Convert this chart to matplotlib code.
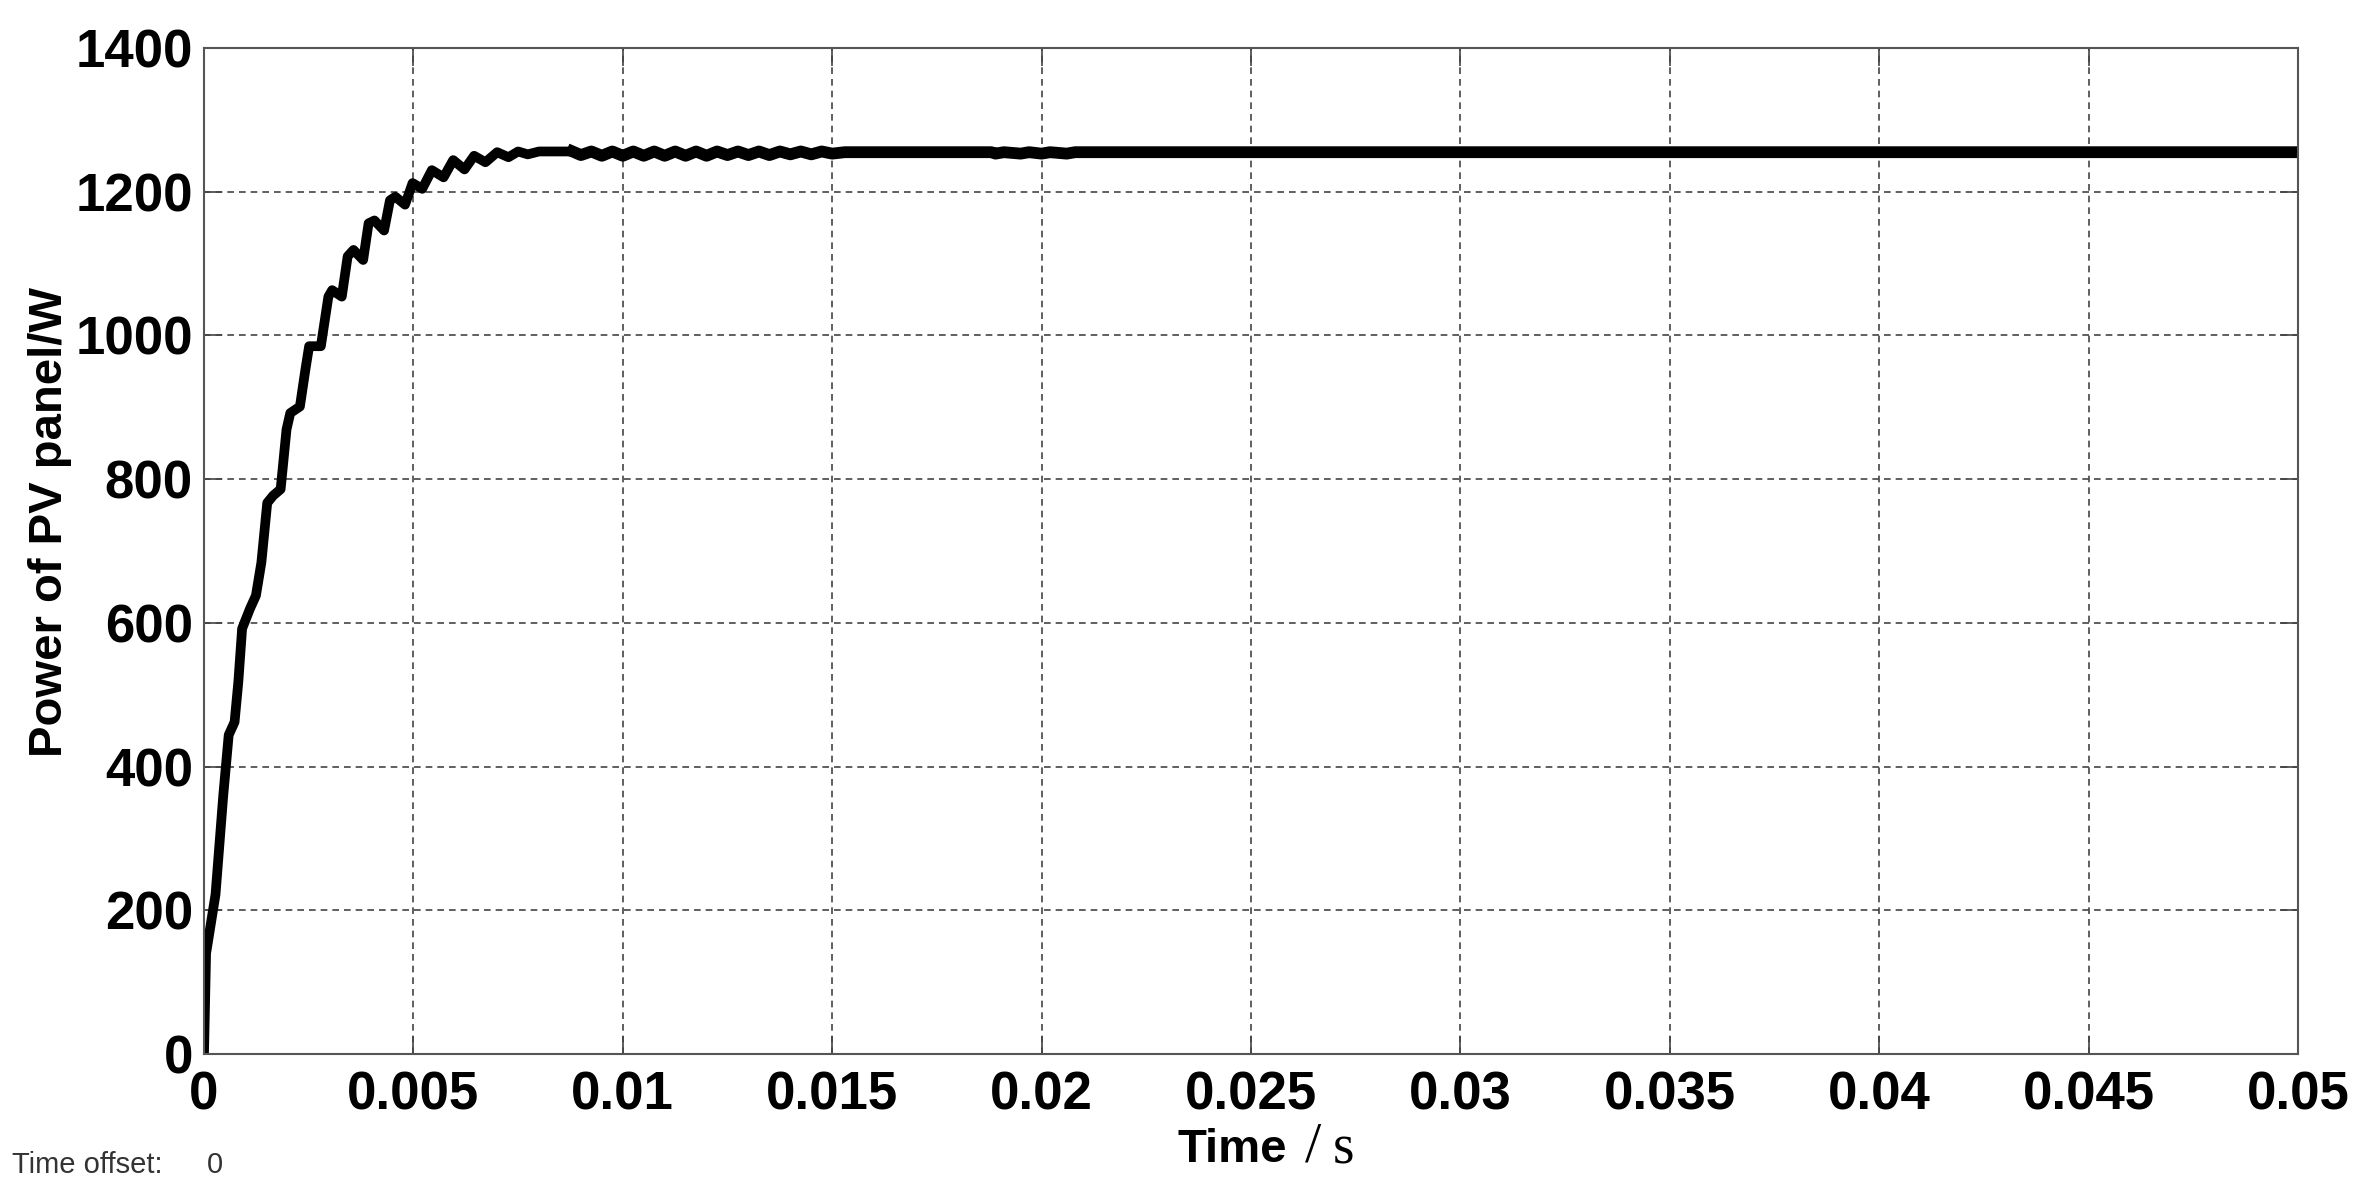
import matplotlib
matplotlib.use("Agg")
import matplotlib.pyplot as plt

plt.rcParams['font.family'] = ['Liberation Sans', 'DejaVu Sans']

# transient part of the PV power curve
t_rise = [0, 0.00005, 0.000275, 0.00046, 0.00059, 0.00073, 0.00082, 0.00091,
          0.0011, 0.00124, 0.00137, 0.00151, 0.00165, 0.00183, 0.00197, 0.00206,
          0.00229, 0.00242, 0.00251, 0.00279, 0.00297, 0.00306, 0.00329, 0.00343,
          0.00357, 0.0038, 0.00393, 0.00407, 0.0043, 0.00444, 0.00457, 0.0048,
          0.00498, 0.00521, 0.00544, 0.00572, 0.00595, 0.00622, 0.00645, 0.00672,
          0.0070, 0.00727, 0.0075, 0.00773, 0.0080, 0.0088]
p_rise = [0, 140, 222, 360, 444, 462, 518, 592,
          620, 638, 684, 767, 777, 786, 869, 892,
          901, 952, 985, 985, 1054, 1063, 1054, 1110,
          1119, 1105, 1156, 1160, 1146, 1188, 1193, 1182,
          1212, 1204, 1230, 1220, 1244, 1231, 1250, 1241,
          1255, 1248, 1256, 1252, 1256, 1256]

# steady state with small ripple
t_steady = [0.0088, 0.0090, 0.00925, 0.0095, 0.00975, 0.0100, 0.01025, 0.0105,
            0.01075, 0.0110, 0.01125, 0.0115, 0.01175, 0.0120, 0.01225, 0.0125,
            0.01275, 0.0130, 0.01325, 0.0135, 0.01375, 0.0140, 0.01425, 0.0145,
            0.01475, 0.0150, 0.0153, 0.0188, 0.0189, 0.0191, 0.0195, 0.0197,
            0.0200, 0.0202, 0.0206, 0.0208, 0.05]
p_steady = [1256, 1251, 1256, 1250, 1256, 1250, 1256, 1250,
            1256, 1250, 1256, 1250, 1256, 1250, 1256, 1251,
            1256, 1251, 1256, 1251, 1256, 1252, 1256, 1252,
            1256, 1253, 1255, 1255, 1253, 1255, 1253, 1255,
            1253, 1255, 1253, 1255, 1255]

x_ticks = [0, 0.005, 0.01, 0.015, 0.02, 0.025, 0.03, 0.035, 0.04, 0.045, 0.05]
x_labels = ['0', '0.005', '0.01', '0.015', '0.02', '0.025', '0.03', '0.035',
            '0.04', '0.045', '0.05']
y_ticks = [0, 200, 400, 600, 800, 1000, 1200, 1400]
y_labels = ['0', '200', '400', '600', '800', '1000', '1200', '1400']

W, H = 2367, 1200
fig = plt.figure(figsize=(W / 100, H / 100), dpi=100)
ax = fig.add_axes([204 / W, 1 - 1054 / H, (2298 - 204) / W, (1054 - 48) / H])

ax.plot(t_rise, p_rise, color='black', linewidth=7, solid_joinstyle='round',
        solid_capstyle='round')
ax.plot(t_steady, p_steady, color='black', linewidth=8.5, solid_joinstyle='round')

ax.set_xlim(0, 0.05)
ax.set_ylim(0, 1400)
ax.set_xticks(x_ticks)
ax.set_xticklabels(x_labels, fontsize=38, fontweight='bold')
ax.set_yticks(y_ticks)
ax.set_yticklabels(y_labels, fontsize=38, fontweight='bold')
ax.tick_params(direction='in', length=13, width=1.2, color='#444444',
               top=True, right=True)
ax.tick_params(axis='x', pad=12)
ax.tick_params(axis='y', pad=8)

ax.grid(True, color='#444444', linestyle=(0, (4, 3)), linewidth=1.2)
for s in ax.spines.values():
    s.set_color('#555555')
    s.set_linewidth(1.5)

ax.set_ylabel('Power of PV panel/W', fontsize=34, fontweight='bold', va='center')
ax.yaxis.set_label_coords(-0.0735, 0.529)

# x label: bold "Time" with a serif "/s"
fig.text(1177 / W, 1 - 1150 / H, 'Time', fontsize=34, fontweight='bold',
         ha='left', va='center')
fig.text(1305 / W, 1 - 1148 / H, '/', fontsize=42, family='Liberation Serif',
         ha='left', va='center')
fig.text(1333 / W, 1 - 1150 / H, 's', fontsize=40, family='Liberation Serif',
         ha='left', va='center')

fig.text(12 / W, 1 - 1165 / H, 'Time offset:', fontsize=21, color='#333333',
         ha='left', va='center')
fig.text(207 / W, 1 - 1165 / H, '0', fontsize=21, color='#333333',
         ha='left', va='center')

fig.savefig('out.png', dpi=100)
